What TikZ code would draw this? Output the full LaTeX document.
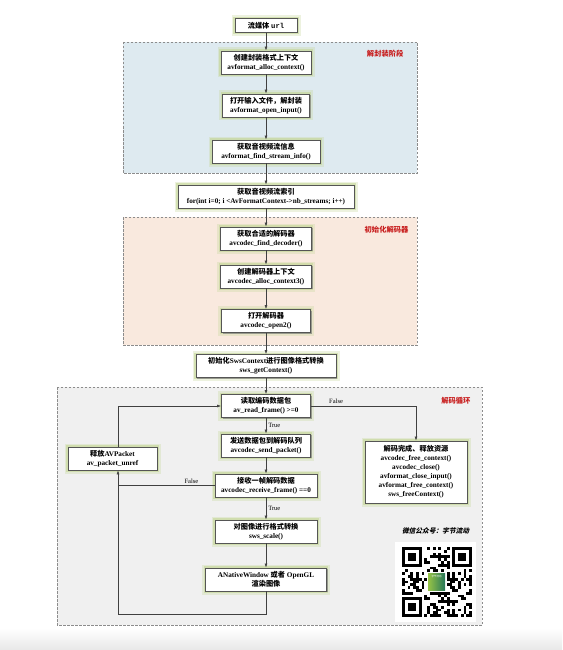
\documentclass[tikz,border=0pt]{standalone}
\usepackage{fontspec}
\setmainfont{Liberation Serif}
\setmonofont{Liberation Mono}
\newfontfamily\cjk{Noto Sans CJK SC}
\newfontfamily\cjkit[FakeSlant=0.25]{Noto Sans CJK SC}
\usetikzlibrary{arrows.meta,shadows,positioning}
\definecolor{boxline}{RGB}{85,85,85}
\definecolor{glow}{RGB}{196,214,150}
\definecolor{demuxbg}{RGB}{222,234,240}
\definecolor{decbg}{RGB}{249,233,222}
\definecolor{loopbg}{RGB}{240,240,240}
\definecolor{tagred}{RGB}{200,30,30}
\newcommand\zh[1]{{\cjk #1}}
\begin{document}
\begin{tikzpicture}[x=1pt, y=-1pt, >={Latex[length=4pt,width=2.8pt]},
  box/.style={draw=boxline, fill=white, line width=.7pt, align=center, inner sep=1pt,
    font=\fontsize{7.2}{9}\selectfont\bfseries,
    preaction={draw=glow, line width=7pt, opacity=.3},
    preaction={draw=glow, line width=3.5pt, opacity=.6},
    drop shadow={shadow xshift=1pt, shadow yshift=-1pt, fill=black!50, opacity=.7}},
  region/.style={draw=black!45, dash pattern=on 2.5pt off 1.5pt, line width=.6pt},
  tag/.style={font=\fontsize{7.3}{8}\selectfont\bfseries, text=tagred, anchor=east},
  link/.style={draw=black!75, line width=.6pt},
  note/.style={font=\fontsize{6.5}{7}\selectfont, inner sep=2pt}]

  \fill[white] (0,0) rectangle (562,650);
  \useasboundingbox (0,0) rectangle (562,650);
  \shade[top color=white, bottom color=black!9] (0,628) rectangle (562,650);

  \draw[region, fill=demuxbg] (123,42) rectangle (417,173);
  \draw[region, fill=decbg] (123,217) rectangle (417,345);
  \draw[region, fill=loopbg] (57,387) rectangle (482,625);
  \node[tag] (tagdemux) at (407,54) {\zh{解封装阶段}};
  \node[tag] (tagdec) at (412,230) {\zh{初始化解码器}};
  \node[tag] (tagloop) at (474,401) {\zh{解码循环}};

  \node[box, minimum width=62, minimum height=14] (url) at (266,25.5) {\zh{流媒体} \ttfamily url};

  \foreach \n/\y/\w/\txt in {
      allocfmt/62.5/90/{\zh{创建封装格式上下文}\\avformat\_alloc\_context()},
      openinput/105.5/87/{\zh{打开输入文件，解封装}\\avformat\_open\_input()},
      findinfo/151.5/108/{\zh{获取音视频流信息}\\avformat\_find\_stream\_info()},
      streamidx/196.5/176/{\zh{获取音视频流索引}\\for(int i=0; i <AvFormatContext->nb\_streams; i++)},
      finddec/238.5/91/{\zh{获取合适的解码器}\\avcodec\_find\_decoder()},
      allocdec/276.5/91/{\zh{创建解码器上下文}\\avcodec\_alloc\_context3()},
      opendec/321/89/{\zh{打开解码器}\\avcodec\_open2()},
      initsws/366/140/{\zh{初始化}SwsContext\zh{进行图像格式转换}\\sws\_getContext()},
      readpkt/406/89/{\zh{读取编码数据包}\\av\_read\_frame() >=0},
      sendpkt/445.5/89/{\zh{发送数据包到解码队列}\\avcodec\_send\_packet()},
      recvframe/485.5/102/{\zh{接收一帧解码数据}\\avcodec\_receive\_frame() ==0},
      swsscale/531.5/102/{\zh{对图像进行格式转换}\\sws\_scale()},
      render/579.5/121/{ANativeWindow \zh{或者} OpenGL\\\zh{渲染图像}}}
    \node[box, minimum width=\w, minimum height=23] (\n) at (266,\y) {\txt};

  \node[box, minimum width=89, minimum height=23] (unref) at (112.5,458.5)
    {\zh{释放}AVPacket\\av\_packet\_unref};
  \node[box, minimum width=102, minimum height=62] (release) at (416,472)
    {\zh{解码完成、释放资源}\\avcodec\_free\_context()\\avcodec\_close()\\avformat\_close\_input()\\avformat\_free\_context()\\sws\_freeContext()};

  \foreach \a/\b in {url/allocfmt, allocfmt/openinput, openinput/findinfo, findinfo/streamidx,
      streamidx/finddec, finddec/allocdec, allocdec/opendec, opendec/initsws, initsws/readpkt,
      sendpkt/recvframe, swsscale/render}
    \draw[link,->] (\a) -- (\b);
  \draw[link,->] (readpkt) -- node[note, right] {True} (sendpkt);
  \draw[link,->] (recvframe) -- node[note, right] {True} (swsscale);
  \draw[link,->] (readpkt.east) -| node[note, above, pos=.12] {False} (release.north);

  \coordinate (ret) at (118,614);
  \draw[link] (recvframe.west) -- node[note, above, pos=.24] {False} (recvframe.west -| ret);
  \draw[link,->] (render) -- (render |- ret) -- (ret) -- (ret |- unref.south);
  \draw[link,->] (ret |- unref.north) |- (readpkt);

  \node[font=\fontsize{6.7}{7}\selectfont\bfseries] (wechat) at (435.5,531) {\cjkit 微信公众号：字节流动};
  \fill[white] (395,542) rectangle (476,622);
  \foreach \i in {0,...,24}
    \foreach \j in {0,...,24} {
      \pgfmathtruncatemacro\qron{mod(\i*\i*3+\j*\j*5+\i*\j*7+\i*5+\j*3,13)<6}
      \pgfmathtruncatemacro\qrfree{((\i<8 && \j<8) || (\i>16 && \j<8) || (\i<8 && \j>16) || (\i>8 && \i<16 && \j>8 && \j<16)) ? 0 : 1}
      \pgfmathtruncatemacro\qrdot{\qron*\qrfree}
      \ifnum\qrdot=1 \fill (402+\i*2.8,547+\j*2.8) rectangle ++(2.8,2.8); \fi
    }
  \foreach \i/\j in {0/0,18/0,0/18} {
    \fill (402+\i*2.8,547+\j*2.8) rectangle ++(19.6,19.6);
    \fill[white] (404.8+\i*2.8,549.8+\j*2.8) rectangle ++(14,14);
    \fill (407.6+\i*2.8,552.6+\j*2.8) rectangle ++(8.4,8.4);
  }
  \shade[left color={rgb,255:red,150;green,195;blue,70}, right color={rgb,255:red,40;green,120;blue,90}]
    (428,573) rectangle (445,590);
  \node[text=white, font=\fontsize{2.5}{3}\selectfont] (logo) at (436.5,577) {\zh{字节流动}};
\end{tikzpicture}
\end{document}
